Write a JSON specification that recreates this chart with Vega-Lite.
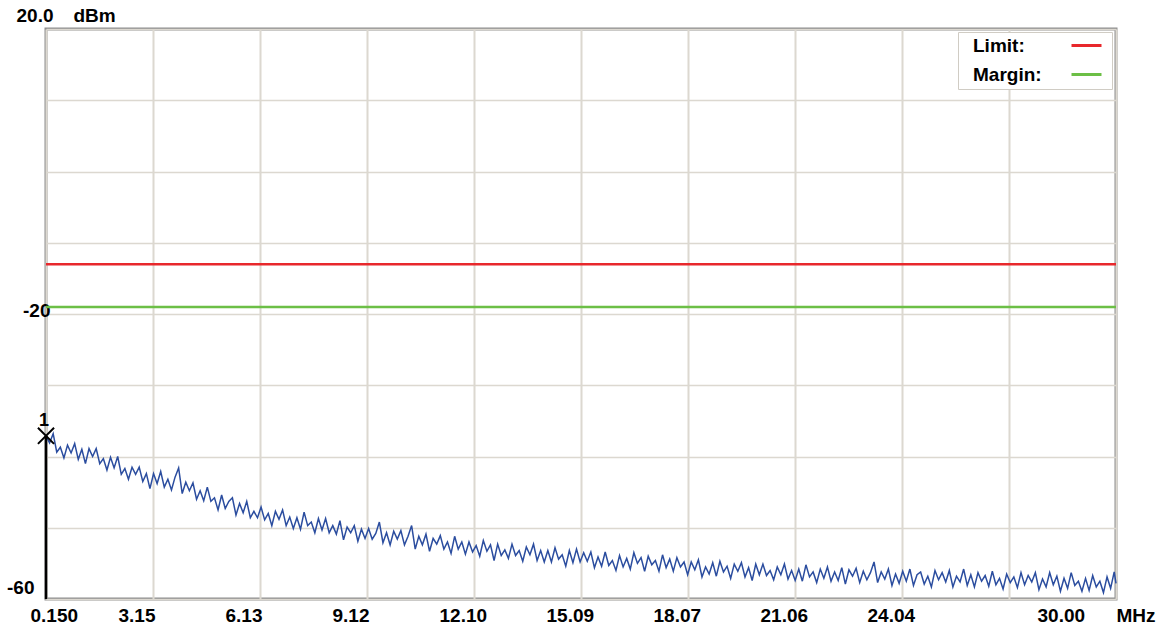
{
  "$schema": "https://vega.github.io/schema/vega-lite/v6.json",
  "autosize": {"type": "none"},
  "padding": {"left": 46, "top": 29, "right": 50, "bottom": 29},
  "width": 1070,
  "height": 570,
  "background": "white",
  "config": {
    "view": {"stroke": "#8e8e8e", "strokeWidth": 3},
    "font": "Liberation Sans"
  },
  "datasets": {
    "trace": [
      {"f":0.15,"v":-37.1},{"f":0.25,"v":-38.1},{"f":0.35,"v":-36.8},{"f":0.45,"v":-39.4},{"f":0.55,"v":-38.7},{"f":0.65,"v":-40.2},{"f":0.75,"v":-38.4},{"f":0.85,"v":-39.5},{"f":0.95,"v":-38.2},{"f":1.05,"v":-40.4},
      {"f":1.15,"v":-39.0},{"f":1.25,"v":-41.0},{"f":1.35,"v":-38.9},{"f":1.45,"v":-40.0},{"f":1.55,"v":-38.9},{"f":1.65,"v":-41.0},{"f":1.75,"v":-40.3},{"f":1.85,"v":-41.9},{"f":1.95,"v":-40.1},{"f":2.05,"v":-41.6},
      {"f":2.15,"v":-40.0},{"f":2.25,"v":-42.5},{"f":2.35,"v":-41.7},{"f":2.45,"v":-43.2},{"f":2.55,"v":-41.5},{"f":2.65,"v":-42.5},{"f":2.75,"v":-41.5},{"f":2.85,"v":-43.5},{"f":2.95,"v":-42.4},{"f":3.05,"v":-44.5},
      {"f":3.15,"v":-42.4},{"f":3.25,"v":-43.8},{"f":3.35,"v":-42.1},{"f":3.45,"v":-44.3},{"f":3.55,"v":-43.2},{"f":3.65,"v":-44.7},{"f":3.75,"v":-42.9},{"f":3.85,"v":-41.6},{"f":3.95,"v":-45.2},{"f":4.05,"v":-43.6},
      {"f":4.15,"v":-44.8},{"f":4.25,"v":-43.7},{"f":4.35,"v":-46.0},{"f":4.45,"v":-44.8},{"f":4.55,"v":-46.2},{"f":4.65,"v":-44.3},{"f":4.75,"v":-46.3},{"f":4.85,"v":-45.8},{"f":4.95,"v":-47.5},{"f":5.05,"v":-45.4},
      {"f":5.15,"v":-47.3},{"f":5.25,"v":-46.3},{"f":5.35,"v":-45.8},{"f":5.45,"v":-48.2},{"f":5.55,"v":-46.6},{"f":5.65,"v":-47.9},{"f":5.75,"v":-46.3},{"f":5.85,"v":-48.6},{"f":5.95,"v":-47.7},{"f":6.05,"v":-48.6},
      {"f":6.15,"v":-47.1},{"f":6.25,"v":-48.9},{"f":6.35,"v":-48.0},{"f":6.45,"v":-49.7},{"f":6.55,"v":-47.7},{"f":6.65,"v":-48.8},{"f":6.75,"v":-47.5},{"f":6.85,"v":-49.7},{"f":6.95,"v":-48.5},{"f":7.05,"v":-50.1},
      {"f":7.15,"v":-48.6},{"f":7.25,"v":-50.2},{"f":7.35,"v":-47.8},{"f":7.45,"v":-49.7},{"f":7.55,"v":-49.2},{"f":7.65,"v":-50.7},{"f":7.75,"v":-48.7},{"f":7.85,"v":-50.3},{"f":7.95,"v":-48.7},{"f":8.05,"v":-50.7},
      {"f":8.15,"v":-49.7},{"f":8.25,"v":-50.9},{"f":8.35,"v":-49.0},{"f":8.45,"v":-51.7},{"f":8.55,"v":-49.9},{"f":8.65,"v":-50.7},{"f":8.75,"v":-49.7},{"f":8.85,"v":-51.9},{"f":8.95,"v":-50.2},{"f":9.05,"v":-51.5},
      {"f":9.15,"v":-50.1},{"f":9.25,"v":-51.6},{"f":9.35,"v":-50.8},{"f":9.45,"v":-49.2},{"f":9.55,"v":-52.1},{"f":9.65,"v":-50.7},{"f":9.75,"v":-52.4},{"f":9.85,"v":-50.5},{"f":9.95,"v":-51.6},{"f":10.05,"v":-50.4},
      {"f":10.15,"v":-52.4},{"f":10.25,"v":-51.2},{"f":10.35,"v":-49.7},{"f":10.45,"v":-53.0},{"f":10.55,"v":-51.2},{"f":10.65,"v":-52.4},{"f":10.75,"v":-50.9},{"f":10.85,"v":-53.3},{"f":10.95,"v":-51.5},{"f":11.05,"v":-52.3},
      {"f":11.15,"v":-51.1},{"f":11.25,"v":-53.0},{"f":11.35,"v":-52.0},{"f":11.45,"v":-53.6},{"f":11.55,"v":-51.2},{"f":11.65,"v":-53.0},{"f":11.75,"v":-52.0},{"f":11.85,"v":-53.7},{"f":11.95,"v":-52.0},{"f":12.05,"v":-53.4},
      {"f":12.15,"v":-52.5},{"f":12.25,"v":-54.0},{"f":12.35,"v":-51.8},{"f":12.45,"v":-53.3},{"f":12.55,"v":-52.4},{"f":12.65,"v":-54.6},{"f":12.75,"v":-52.3},{"f":12.85,"v":-53.9},{"f":12.95,"v":-53.1},{"f":13.05,"v":-54.3},
      {"f":13.15,"v":-52.3},{"f":13.25,"v":-53.9},{"f":13.35,"v":-53.2},{"f":13.45,"v":-54.7},{"f":13.55,"v":-52.7},{"f":13.65,"v":-53.8},{"f":13.75,"v":-52.3},{"f":13.85,"v":-54.6},{"f":13.95,"v":-53.2},{"f":14.05,"v":-54.8},
      {"f":14.15,"v":-53.2},{"f":14.25,"v":-54.8},{"f":14.35,"v":-52.8},{"f":14.45,"v":-54.4},{"f":14.55,"v":-53.8},{"f":14.65,"v":-55.4},{"f":14.75,"v":-53.2},{"f":14.85,"v":-54.9},{"f":14.95,"v":-53.0},{"f":15.05,"v":-54.8},
      {"f":15.15,"v":-53.5},{"f":15.25,"v":-54.7},{"f":15.35,"v":-53.4},{"f":15.45,"v":-55.6},{"f":15.55,"v":-54.1},{"f":15.65,"v":-55.4},{"f":15.75,"v":-53.4},{"f":15.85,"v":-55.3},{"f":15.95,"v":-54.6},{"f":16.05,"v":-56.0},
      {"f":16.15,"v":-53.9},{"f":16.25,"v":-55.5},{"f":16.35,"v":-54.3},{"f":16.45,"v":-55.8},{"f":16.55,"v":-53.5},{"f":16.65,"v":-55.0},{"f":16.75,"v":-54.2},{"f":16.85,"v":-56.1},{"f":16.95,"v":-54.0},{"f":17.05,"v":-55.2},
      {"f":17.15,"v":-54.6},{"f":17.25,"v":-56.1},{"f":17.35,"v":-53.8},{"f":17.45,"v":-55.6},{"f":17.55,"v":-54.4},{"f":17.65,"v":-56.1},{"f":17.75,"v":-54.2},{"f":17.85,"v":-55.5},{"f":17.95,"v":-54.8},{"f":18.05,"v":-56.6},
      {"f":18.15,"v":-54.8},{"f":18.25,"v":-55.9},{"f":18.35,"v":-54.5},{"f":18.45,"v":-56.9},{"f":18.55,"v":-55.5},{"f":18.65,"v":-56.5},{"f":18.75,"v":-54.9},{"f":18.85,"v":-56.8},{"f":18.95,"v":-54.7},{"f":19.05,"v":-56.2},
      {"f":19.15,"v":-55.4},{"f":19.25,"v":-57.1},{"f":19.35,"v":-55.1},{"f":19.45,"v":-56.1},{"f":19.55,"v":-54.9},{"f":19.65,"v":-56.9},{"f":19.75,"v":-55.6},{"f":19.85,"v":-57.4},{"f":19.95,"v":-55.1},{"f":20.05,"v":-56.6},
      {"f":20.15,"v":-55.1},{"f":20.25,"v":-56.7},{"f":20.35,"v":-56.0},{"f":20.45,"v":-57.3},{"f":20.55,"v":-55.5},{"f":20.65,"v":-56.6},{"f":20.75,"v":-55.1},{"f":20.85,"v":-57.2},{"f":20.95,"v":-56.0},{"f":21.05,"v":-57.4},
      {"f":21.15,"v":-55.8},{"f":21.25,"v":-57.5},{"f":21.35,"v":-55.2},{"f":21.45,"v":-56.9},{"f":21.55,"v":-56.2},{"f":21.65,"v":-57.7},{"f":21.75,"v":-55.8},{"f":21.85,"v":-57.1},{"f":21.95,"v":-55.5},{"f":22.05,"v":-57.5},
      {"f":22.15,"v":-56.2},{"f":22.25,"v":-57.4},{"f":22.35,"v":-55.6},{"f":22.45,"v":-57.9},{"f":22.55,"v":-55.9},{"f":22.65,"v":-56.8},{"f":22.75,"v":-55.7},{"f":22.85,"v":-57.7},{"f":22.95,"v":-56.1},{"f":23.05,"v":-57.3},
      {"f":23.15,"v":-56.3},{"f":23.25,"v":-54.8},{"f":23.35,"v":-57.7},{"f":23.45,"v":-56.2},{"f":23.55,"v":-57.2},{"f":23.65,"v":-55.8},{"f":23.75,"v":-58.1},{"f":23.85,"v":-56.5},{"f":23.95,"v":-57.8},{"f":24.05,"v":-56.1},
      {"f":24.15,"v":-57.5},{"f":24.25,"v":-55.8},{"f":24.35,"v":-58.1},{"f":24.45,"v":-56.6},{"f":24.55,"v":-56.2},{"f":24.65,"v":-57.9},{"f":24.75,"v":-56.8},{"f":24.85,"v":-58.3},{"f":24.95,"v":-56.0},{"f":25.05,"v":-57.3},
      {"f":25.15,"v":-56.3},{"f":25.25,"v":-57.6},{"f":25.35,"v":-56.0},{"f":25.45,"v":-58.3},{"f":25.55,"v":-56.8},{"f":25.65,"v":-57.6},{"f":25.75,"v":-55.8},{"f":25.85,"v":-58.1},{"f":25.95,"v":-56.6},{"f":26.05,"v":-58.3},
      {"f":26.15,"v":-56.3},{"f":26.25,"v":-57.5},{"f":26.35,"v":-56.7},{"f":26.45,"v":-58.2},{"f":26.55,"v":-56.1},{"f":26.65,"v":-58.0},{"f":26.75,"v":-57.1},{"f":26.85,"v":-58.6},{"f":26.95,"v":-56.5},{"f":27.05,"v":-57.7},
      {"f":27.15,"v":-56.9},{"f":27.25,"v":-58.4},{"f":27.35,"v":-56.3},{"f":27.45,"v":-58.0},{"f":27.55,"v":-56.7},{"f":27.65,"v":-57.6},{"f":27.75,"v":-56.3},{"f":27.85,"v":-58.7},{"f":27.95,"v":-57.2},{"f":28.05,"v":-58.3},
      {"f":28.15,"v":-56.3},{"f":28.25,"v":-58.0},{"f":28.35,"v":-56.8},{"f":28.45,"v":-58.9},{"f":28.55,"v":-57.1},{"f":28.65,"v":-58.5},{"f":28.75,"v":-56.3},{"f":28.85,"v":-58.1},{"f":28.95,"v":-57.5},{"f":29.05,"v":-58.9},
      {"f":29.15,"v":-57.1},{"f":29.25,"v":-58.8},{"f":29.35,"v":-56.7},{"f":29.45,"v":-58.3},{"f":29.55,"v":-57.5},{"f":29.65,"v":-59.1},{"f":29.75,"v":-56.9},{"f":29.85,"v":-58.5},{"f":29.95,"v":-56.2},{"f":30.0,"v":-57.8}
    ],
    "lines": [
      {"name": "Limit:", "level": -13},
      {"name": "Margin:", "level": -19}
    ],
    "marker": [
      {"f": 0.15, "v": -37.1, "bottom": -60, "label": "1"}
    ]
  },
  "layer": [
    {
      "data": {"name": "trace"},
      "mark": {"type": "line", "color": "#2b4d9f", "strokeWidth": 1.5, "interpolate": "linear"},
      "encoding": {
        "x": {
          "field": "f", "type": "quantitative",
          "scale": {"domain": [0.15, 30.0], "nice": false, "zero": false},
          "axis": {
            "values": [0.15, 3.135, 6.12, 9.105, 12.09, 15.075, 18.06, 21.045, 24.03, 27.015, 30.0],
            "labelExpr": "datum.value < 1 ? '0.150' : datum.value < 4 ? '3.15' : datum.value < 7 ? '6.13' : datum.value < 10 ? '9.12' : datum.value < 13 ? '12.10' : datum.value < 16 ? '15.09' : datum.value < 19 ? '18.07' : datum.value < 22 ? '21.06' : datum.value < 25 ? '24.04' : datum.value < 28 ? '' : '30.00'",
            "domain": false,
            "ticks": false,
            "tickSize": 0,
            "grid": true,
            "gridColor": "#dcd8d0",
            "gridWidth": 2,
            "labelFont": "Liberation Sans",
            "labelFontSize": 19,
            "labelFontWeight": "bold",
            "labelColor": "#000000",
            "labelAlign": "left",
            "labelBaseline": "middle",
            "labelPadding": 16,
            "labelOffset": {"condition": [{"test": "datum.value < 1", "value": -16}, {"test": "datum.value > 29", "value": -79}], "value": -35},
            "labelOverlap": false,
            "labelBound": false,
            "labelFlush": false,
            "title": "MHz",
            "titleFont": "Liberation Sans",
            "titleFontSize": 19,
            "titleFontWeight": "bold",
            "titleColor": "#000000",
            "titleX": 1070,
            "titleY": 16,
            "titleAlign": "left",
            "titleBaseline": "middle",
            "titleAngle": 0
          }
        },
        "y": {
          "field": "v", "type": "quantitative",
          "scale": {"domain": [-60, 20], "nice": false, "zero": false},
          "axis": {
            "values": [20, 10, 0, -10, -20, -30, -40, -50, -60],
            "labelExpr": "datum.value == 20 ? '20.0' : datum.value == -20 ? '-20' : datum.value == -60 ? '-60' : ''",
            "domain": false,
            "ticks": false,
            "tickSize": 0,
            "grid": true,
            "gridColor": "#dcd8d0",
            "gridWidth": 1.6,
            "labelFont": "Liberation Sans",
            "labelFontSize": 19,
            "labelFontWeight": "bold",
            "labelColor": "#000000",
            "labelAlign": "right",
            "labelBaseline": "middle",
            "labelPadding": {"condition": [{"test": "datum.value == 20", "value": -7}, {"test": "datum.value == -20", "value": -4}], "value": 12},
            "labelOffset": {"condition": [{"test": "datum.value == 20", "value": -14}, {"test": "datum.value == -20", "value": -4}], "value": -12},
            "labelOverlap": false,
            "labelBound": false,
            "labelFlush": false,
            "title": "dBm",
            "titleFont": "Liberation Sans",
            "titleFontSize": 19,
            "titleFontWeight": "bold",
            "titleColor": "#000000",
            "titleX": 27,
            "titleY": -14,
            "titleAlign": "left",
            "titleBaseline": "middle",
            "titleAngle": 0
          }
        }
      }
    },
    {
      "data": {"name": "lines"},
      "mark": {"type": "rule", "strokeWidth": 2.5},
      "encoding": {
        "y": {"field": "level", "type": "quantitative"},
        "color": {
          "field": "name", "type": "nominal",
          "scale": {"domain": ["Limit:", "Margin:"], "range": ["#e8282c", "#6cbf46"]},
          "legend": {
            "orient": "none",
            "legendX": 912,
            "legendY": 3,
            "direction": "vertical",
            "title": null,
            "symbolType": "M-2,0H2",
            "symbolSize": 225,
            "symbolStrokeWidth": 3,
            "symbolOffset": 115,
            "labelOffset": -123,
            "labelFont": "Liberation Sans",
            "labelFontSize": 19,
            "labelFontWeight": "bold",
            "labelColor": "#000000",
            "fillColor": "#ffffff",
            "strokeColor": "#d0ccc4",
            "padding": 4,
            "rowPadding": 9
          }
        }
      }
    },
    {
      "data": {"name": "marker"},
      "mark": {"type": "rule", "color": "#000000", "strokeWidth": 2.5},
      "encoding": {
        "x": {"field": "f", "type": "quantitative"},
        "y": {"field": "v", "type": "quantitative"},
        "y2": {"field": "bottom"}
      }
    },
    {
      "data": {"name": "marker"},
      "mark": {"type": "point", "shape": "M-1,-1L1,1M1,-1L-1,1", "size": 260, "filled": false, "stroke": "#000000", "strokeWidth": 2, "opacity": 1},
      "encoding": {
        "x": {"field": "f", "type": "quantitative"},
        "y": {"field": "v", "type": "quantitative"}
      }
    },
    {
      "data": {"name": "marker"},
      "mark": {"type": "text", "font": "Liberation Sans", "fontSize": 18, "fontWeight": "bold", "color": "#000000", "dx": -2, "dy": -15, "baseline": "middle", "align": "center"},
      "encoding": {
        "x": {"field": "f", "type": "quantitative"},
        "y": {"field": "v", "type": "quantitative"},
        "text": {"field": "label"}
      }
    }
  ]
}
